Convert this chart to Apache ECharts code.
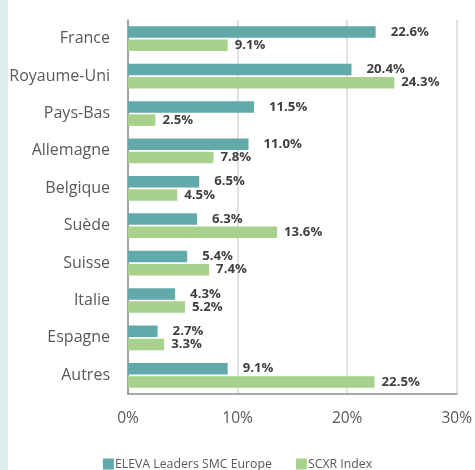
<!DOCTYPE html>
<html>
<head>
<meta charset="utf-8">
<script src="https://cdn.jsdelivr.net/npm/echarts@6/dist/echarts.min.js"></script>
<style>
  html,body{margin:0;padding:0;background:#fff}
  #strip{position:absolute;left:0;top:0;width:8px;height:470px;background:#dfeded}
  #chart{width:475px;height:470px}
</style>
</head>
<body>
<div id="strip"></div>
<div id="chart"></div>
<script>
const countries = ['France','Royaume-Uni','Pays-Bas','Allemagne','Belgique','Suède','Suisse','Italie','Espagne','Autres']
const elevaValues = [22.6, 20.4, 11.5, 11.0, 6.5, 6.3, 5.4, 4.3, 2.7, 9.1]
const scxrValues = [9.1, 24.3, 2.5, 7.8, 4.5, 13.6, 7.4, 5.2, 3.3, 22.5]
const seriesNames = ['ELEVA Leaders SMC Europe', 'SCXR Index']
const xTicks = [0, 10, 20, 30]

const font = '"Open Sans", sans-serif'

const chart = echarts.init(document.getElementById('chart'))

const mkSeries = (name, values, color, dist) => ({
  name,
  type: 'bar',
  data: values,
  barWidth: 11.5,
  barGap: '15%',
  itemStyle: {color},
  label: {
    show: true,
    position: 'right',
    distance: dist,
    formatter: p => p.value.toFixed(1) + '%',
    fontFamily: font,
    fontWeight: 'bold',
    fontSize: 13.2,
    color: '#404040'
  }
})

chart.setOption({
  animation: false,
  grid: {left: 128, right: 13, top: 20, bottom: 76},
  legend: {
    data: seriesNames,
    top: 452,
    left: 'center',
    icon: 'rect',
    itemWidth: 11,
    itemHeight: 11,
    itemGap: 24,
    textStyle: {fontFamily: font, fontSize: 12.3, lineHeight: 14, color: '#595959', padding: [0, 0, 0, -4]}
  },
  xAxis: {
    type: 'value',
    min: xTicks[0],
    max: xTicks[xTicks.length - 1],
    interval: 10,
    axisLine: {show: true, lineStyle: {color: '#8c8c8c', width: 1.5}},
    axisTick: {show: false},
    splitLine: {lineStyle: {color: '#d9d9d9', width: 1.5}},
    axisLabel: {
      formatter: v => v + '%',
      fontFamily: font,
      fontSize: 15.5,
      color: '#595959',
      margin: 17
    }
  },
  yAxis: {
    type: 'category',
    data: countries,
    inverse: true,
    axisLine: {lineStyle: {color: '#8c8c8c', width: 1.5}},
    axisTick: {show: false},
    axisLabel: {fontFamily: font, fontSize: 16, color: '#595959', margin: 18}
  },
  series: [
    mkSeries(seriesNames[0], elevaValues, '#62aaa9', 15),
    mkSeries(seriesNames[1], scxrValues, '#a9d18e', 7)
  ]
})
</script>
</body>
</html>
